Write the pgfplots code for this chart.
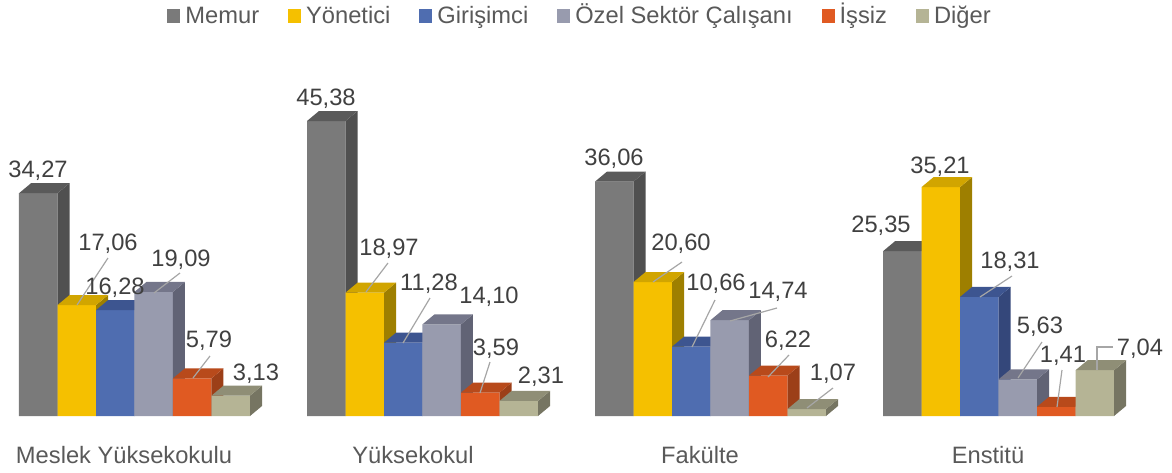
\documentclass[border=0pt]{standalone}
\usepackage{pgfplots}
\usepackage{pgfplotstable}
\pgfplotsset{compat=1.18}
\usepackage{fontspec}
\setmainfont{Liberation Sans}

\definecolor{cMf}{HTML}{7A7A7A}\definecolor{cMt}{HTML}{5A5A5A}\definecolor{cMs}{HTML}{505050}
\definecolor{cYf}{HTML}{F5C000}\definecolor{cYt}{HTML}{D1A500}\definecolor{cYs}{HTML}{9E7F00}
\definecolor{cGf}{HTML}{4F6DB0}\definecolor{cGt}{HTML}{3D5590}\definecolor{cGs}{HTML}{34477A}
\definecolor{cOf}{HTML}{989BAE}\definecolor{cOt}{HTML}{74768A}\definecolor{cOs}{HTML}{616375}
\definecolor{cIf}{HTML}{E05A22}\definecolor{cIt}{HTML}{B84A1B}\definecolor{cIs}{HTML}{9C3F18}
\definecolor{cDf}{HTML}{B5B495}\definecolor{cDt}{HTML}{8F8E76}\definecolor{cDs}{HTML}{767562}
\definecolor{lbl}{HTML}{404040}
\definecolor{lgd}{HTML}{595959}
\definecolor{ldr}{HTML}{A6A6A6}

\pgfplotstableread{
g memur yon gir ozel issiz diger
0 34.27 17.06 16.28 19.09 5.79 3.13
1 45.38 18.97 11.28 14.10 3.59 2.31
2 36.06 20.60 10.66 14.74 6.22 1.07
3 25.35 35.21 18.31 5.63 1.41 7.04
}\data

\def\bw{9.625pt}
\def\dxx{6pt}
\def\dyy{5pt}
\pgfdeclareplotmark{side3d}{%
  \pgfpathmoveto{\pgfpoint{\bw}{0pt}}%
  \pgfpathlineto{\pgfpoint{\bw+\dxx}{\dyy}}%
  \pgfpathlineto{\pgfpoint{\bw+\dxx}{\dyy-\barh*3.25pt}}%
  \pgfpathlineto{\pgfpoint{\bw}{-\barh*3.25pt}}%
  \pgfpathclose\pgfusepathqfill}
\pgfdeclareplotmark{top3d}{%
  \pgfpathmoveto{\pgfpoint{-\bw}{0pt}}%
  \pgfpathlineto{\pgfpoint{\bw}{0pt}}%
  \pgfpathlineto{\pgfpoint{\bw+\dxx}{\dyy}}%
  \pgfpathlineto{\pgfpoint{-\bw+\dxx}{\dyy}}%
  \pgfpathclose\pgfusepathqfill}

% #1 column, #2 offset, #3 front, #4 top, #5 side, #6 legend
\newcommand{\series}[6]{%
  \addplot[ybar, bar width=19.25pt, bar shift=0pt, fill=#3, draw=none]
    table[x expr=\thisrow{g}+#2, y=#1] {\data};
  \addlegendentry{#6}
  \addplot[only marks, mark=side3d, mark options={fill=#5, draw=none},
    visualization depends on={\thisrow{#1} \as \barh}, forget plot]
    table[x expr=\thisrow{g}+#2, y=#1] {\data};
  \addplot[only marks, mark=top3d, mark options={fill=#4, draw=none},
    visualization depends on={\thisrow{#1} \as \barh}, forget plot]
    table[x expr=\thisrow{g}+#2, y=#1] {\data};
}

\begin{document}
\begin{tikzpicture}[font=\fontsize{11.85pt}{14pt}\selectfont]
\begin{axis}[
  x=144pt, y=3.25pt,
  xmin=-0.46701, xmax=3.60243,
  ymin=-8.6154, ymax=64,
  hide axis, clip=false, clip mode=individual,
  legend columns=6,
  legend image code/.code={\fill[#1,draw=none] (0pt,-3.07pt) rectangle (6.5pt,3.6pt);},
  legend style={at={(rel axis cs:0.4962,0.965)}, anchor=center, draw=none,
    fill=none, text=lgd, inner sep=0pt,
    nodes={inner xsep=2.5pt, inner ysep=1pt, text height=0.95em, text depth=0.25em},
    /tikz/every even column/.append style={column sep=12pt}},
]
\path (rel axis cs:0,0) rectangle (rel axis cs:1,1);
\series{memur}{-0.3342}{cMf}{cMt}{cMs}{Memur}
\series{yon}{-0.2005}{cYf}{cYt}{cYs}{Yönetici}
\series{gir}{-0.0668}{cGf}{cGt}{cGs}{Girişimci}
\series{ozel}{0.0668}{cOf}{cOt}{cOs}{Özel Sektör Çalışanı}
\series{issiz}{0.2005}{cIf}{cIt}{cIs}{İşsiz}
\series{diger}{0.3342}{cDf}{cDt}{cDs}{Diğer}
\coordinate (TL) at (rel axis cs:0,1);
\end{axis}
\begin{scope}[shift={(TL)}, x=0.5pt, y=-0.5pt]
  % leader lines
  \begin{scope}[draw=ldr, line width=0.6pt]
    \draw (108,258)--(77,305); \draw (180,273)--(154,293); \draw (210,356)--(193,378);
    \draw (388,263)--(366,292); \draw (430,298)--(403,343); \draw (490,362)--(480,393);
    \draw (682,262)--(653,282); \draw (715,300)--(692,347); \draw (777,308)--(730,321);
    \draw (789,355)--(768,377); \draw (833,388)--(807,408);
    \draw (1012,276)--(980,297); \draw (1042,342)--(1018,378); \draw (1062,370)--(1057,407);
    \draw (1113,347)--(1097,347)--(1097,370);
  \end{scope}
  \begin{scope}[every node/.style={anchor=base, inner sep=0pt, text=lbl}]
    \node at (38,177) {34,27}; \node at (108,250) {17,06}; \node at (115,294) {16,28};
    \node at (181,266) {19,09}; \node at (209,347) {5,79}; \node at (256,380) {3,13};
    \node at (326,105) {45,38}; \node at (389,255) {18,97}; \node at (429,290) {11,28};
    \node at (489,303) {14,10}; \node at (496,355) {3,59}; \node at (541,383) {2,31};
    \node at (614,165) {36,06}; \node at (681,250) {20,60}; \node at (716,290) {10,66};
    \node at (778,298) {14,74}; \node at (788,347) {6,22}; \node at (833,380) {1,07};
    \node at (881,232) {25,35}; \node at (940,173) {35,21}; \node at (1010,268) {18,31};
    \node at (1040,333) {5,63}; \node at (1063,362) {1,41}; \node at (1140,355) {7,04};
  \end{scope}
  \begin{scope}[every node/.style={anchor=base, inner sep=0pt, text=lgd}]
    \node at (124,463) {Meslek Yüksekokulu};
    \node at (413,463) {Yüksekokul};
    \node at (700,463) {Fakülte};
    \node at (988,463) {Enstitü};
  \end{scope}
\end{scope}
\end{tikzpicture}
\end{document}
